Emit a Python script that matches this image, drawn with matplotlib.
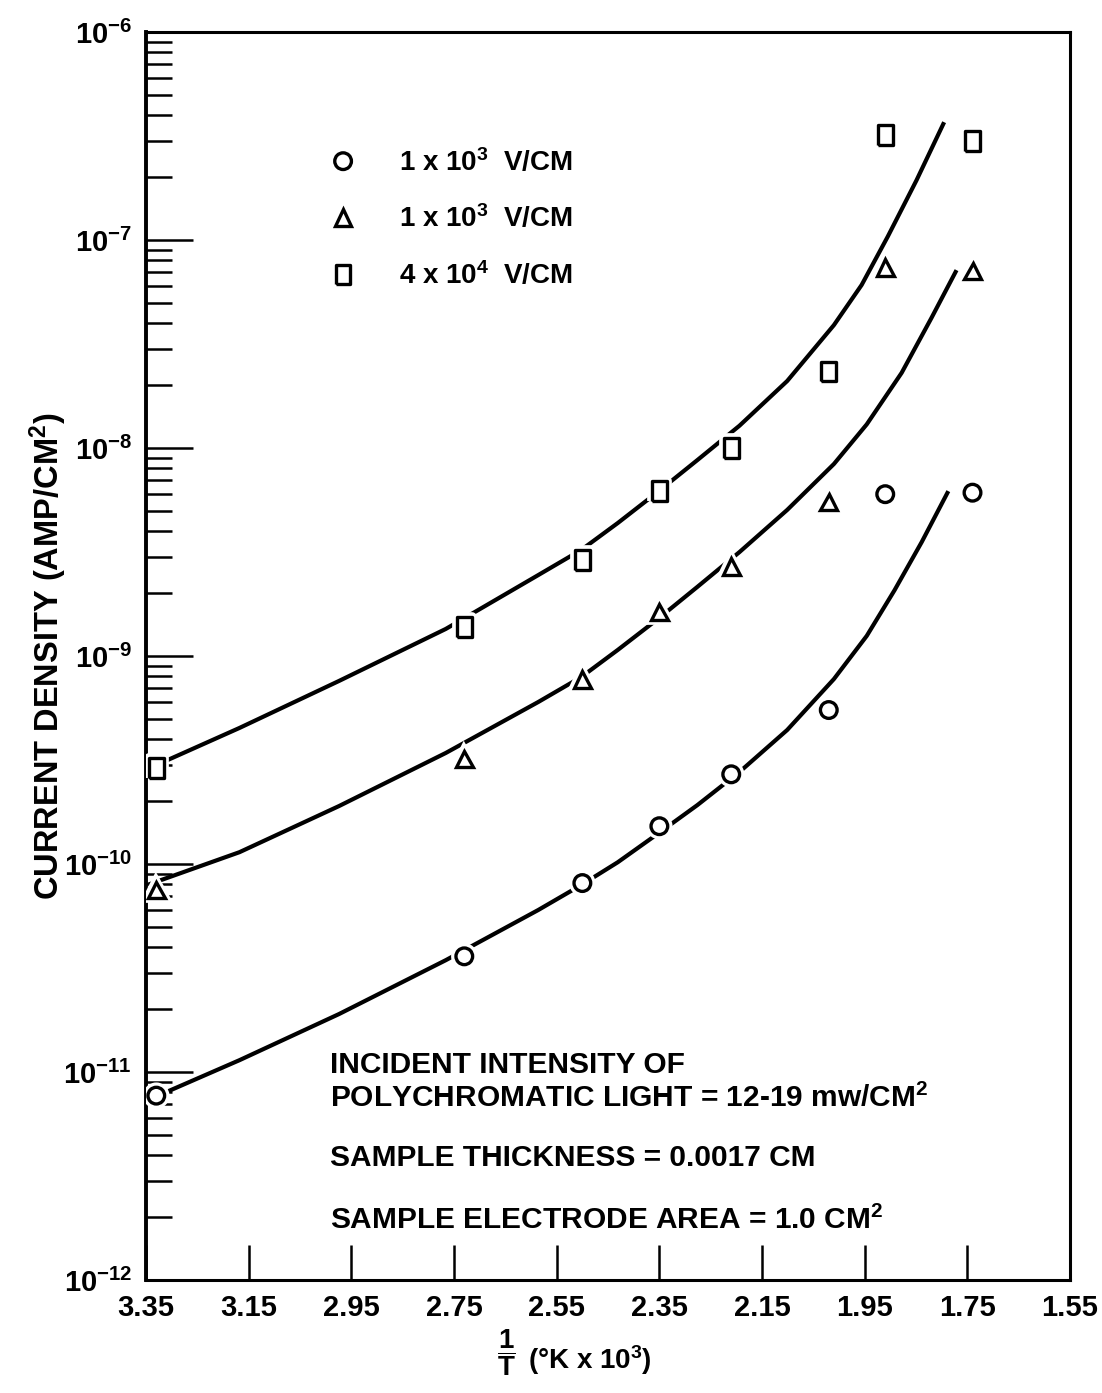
import matplotlib
matplotlib.use('Agg')
import matplotlib.pyplot as plt
import matplotlib.patheffects as pe
from matplotlib.ticker import LogLocator, NullFormatter
import numpy as np

plt.rcParams['font.family'] = ['Liberation Sans', 'DejaVu Sans']
plt.rcParams['font.weight'] = 'bold'
plt.rcParams['axes.labelweight'] = 'bold'
plt.rcParams['mathtext.fontset'] = 'custom'
plt.rcParams['mathtext.rm'] = 'Liberation Sans:bold'
plt.rcParams['mathtext.bf'] = 'Liberation Sans:bold'
plt.rcParams['mathtext.default'] = 'regular'

# measured points, x = 1/T (1/K x 10^3), y = current density (A/cm^2)
x_pts = [3.33, 2.73, 2.50, 2.35, 2.21, 2.02, 1.91, 1.74]
circle_y = [7.7e-12, 3.6e-11, 8.1e-11, 1.52e-10, 2.7e-10, 5.5e-10, 6.0e-9, 6.1e-9]
triangle_y = [7.5e-11, 3.2e-10, 7.7e-10, 1.63e-9, 2.7e-9, 5.5e-9, 7.4e-8, 7.1e-8]
square_y = [2.9e-10, 1.38e-9, 2.9e-9, 6.2e-9, 1.0e-8, 2.34e-8, 3.2e-7, 3.0e-7]

# hand drawn fit curves
upper_x = [3.342, 3.168, 2.974, 2.766, 2.586, 2.502, 2.431, 2.351, 2.276, 2.194,
           2.101, 2.010, 1.956, 1.905, 1.849, 1.797]
upper_y = [2.90e-10, 4.51e-10, 7.59e-10, 1.35e-9, 2.45e-9, 3.24e-9, 4.36e-9, 6.21e-9,
           8.75e-9, 1.28e-8, 2.10e-8, 3.90e-8, 6.08e-8, 1.04e-7, 1.94e-7, 3.61e-7]
middle_x = [3.342, 3.168, 2.974, 2.766, 2.586, 2.502, 2.431, 2.351, 2.276, 2.194,
            2.101, 2.010, 1.946, 1.878, 1.820, 1.773]
middle_y = [8.02e-11, 1.14e-10, 1.90e-10, 3.42e-10, 6.01e-10, 7.93e-10, 1.07e-9, 1.52e-9,
            2.15e-9, 3.16e-9, 5.04e-9, 8.38e-9, 1.30e-8, 2.30e-8, 4.22e-8, 7.02e-8]
lower_x = [3.342, 3.168, 2.974, 2.766, 2.586, 2.502, 2.431, 2.351, 2.276, 2.194,
           2.101, 2.010, 1.946, 1.892, 1.839, 1.789]
lower_y = [7.41e-12, 1.14e-11, 1.90e-11, 3.45e-11, 6.01e-11, 7.93e-11, 1.02e-10, 1.41e-10,
           1.92e-10, 2.77e-10, 4.41e-10, 7.75e-10, 1.25e-9, 2.07e-9, 3.53e-9, 6.08e-9]

xticks = [3.35, 3.15, 2.95, 2.75, 2.55, 2.35, 2.15, 1.95, 1.75, 1.55]
series_labels = [r'1 x 10$^3$  V/CM', r'1 x 10$^3$  V/CM', r'4 x 10$^4$  V/CM']

fig = plt.figure(figsize=(11.02, 13.93), dpi=100)
ax = fig.add_axes([0.1325, 0.0811, 0.8385, 0.8959])

halo = [pe.withStroke(linewidth=7, foreground='white')]

for cx, cy in [(upper_x, upper_y), (middle_x, middle_y), (lower_x, lower_y)]:
    ax.plot(cx, cy, color='black', lw=3.0, zorder=2, solid_joinstyle='round')

# squares in the original are a bit taller than wide
tall_square = [(-0.38, -0.5), (0.38, -0.5), (0.38, 0.5), (-0.38, 0.5), (-0.38, -0.5)]

mk = dict(ls='none', mfc='white', mec='black', mew=2.4, zorder=3, path_effects=halo)
h1, = ax.plot(x_pts, circle_y, marker='o', ms=12, label=series_labels[0], **mk)
h2, = ax.plot(x_pts, triangle_y, marker='^', ms=12, label=series_labels[1], **mk)
h3, = ax.plot(x_pts, square_y, marker=tall_square, ms=14, label=series_labels[2], **mk)

ax.set_xlim(3.35, 1.55)
ax.set_yscale('log')
ax.set_ylim(1e-12, 1e-6)
ax.set_xticks(xticks)
ax.set_xticklabels([f'{t:.2f}' for t in xticks])
ax.yaxis.set_major_locator(LogLocator(base=10, numticks=10))
ax.yaxis.set_minor_locator(LogLocator(base=10, subs=np.arange(2, 10), numticks=20))
ax.yaxis.set_minor_formatter(NullFormatter())

ax.tick_params(axis='x', direction='in', length=25, width=1.8, pad=10, labelsize=21, top=False)
ax.tick_params(axis='y', which='major', direction='in', length=34, width=1.8, pad=10,
               labelsize=21, right=False)
ax.tick_params(axis='y', which='minor', direction='in', length=19, width=1.8, right=False)
for s in ax.spines.values():
    s.set_linewidth(2.2)
ax.spines['left'].set_linewidth(2.8)

ax.set_ylabel(r'CURRENT DENSITY (AMP/CM$^2$)', fontsize=23.5, fontweight='bold')
ax.yaxis.label.set_va('center')
ax.yaxis.set_label_coords(-0.106, 0.5)

ax.set_xlabel(r'(°K x 10$^3$)', fontsize=20, fontweight='bold')
ax.xaxis.label.set_va('center')
ax.xaxis.label.set_ha('left')
ax.xaxis.set_label_coords(0.413, -0.064)
ax.text(0.390, -0.058, r'$\dfrac{1}{T}$', transform=ax.transAxes, fontsize=20,
        ha='center', va='center')

ax.legend(handles=[h1, h2, h3], loc='upper left', bbox_to_anchor=(0.199, 0.907),
          frameon=False, fontsize=20, handlelength=0.95, handletextpad=1.55,
          labelspacing=1.0, borderpad=0, borderaxespad=0)

notes = [
    ('INCIDENT INTENSITY OF', 0.166),
    (r'POLYCHROMATIC LIGHT = 12-19 mw/CM$^2$', 0.139),
    ('SAMPLE THICKNESS = 0.0017 CM', 0.091),
    (r'SAMPLE ELECTRODE AREA = 1.0 CM$^2$', 0.041),
]
for txt, yy in notes:
    ax.text(0.199, yy, txt, transform=ax.transAxes, fontsize=21.5, ha='left', va='baseline')

fig.savefig('out.png', dpi=100)
